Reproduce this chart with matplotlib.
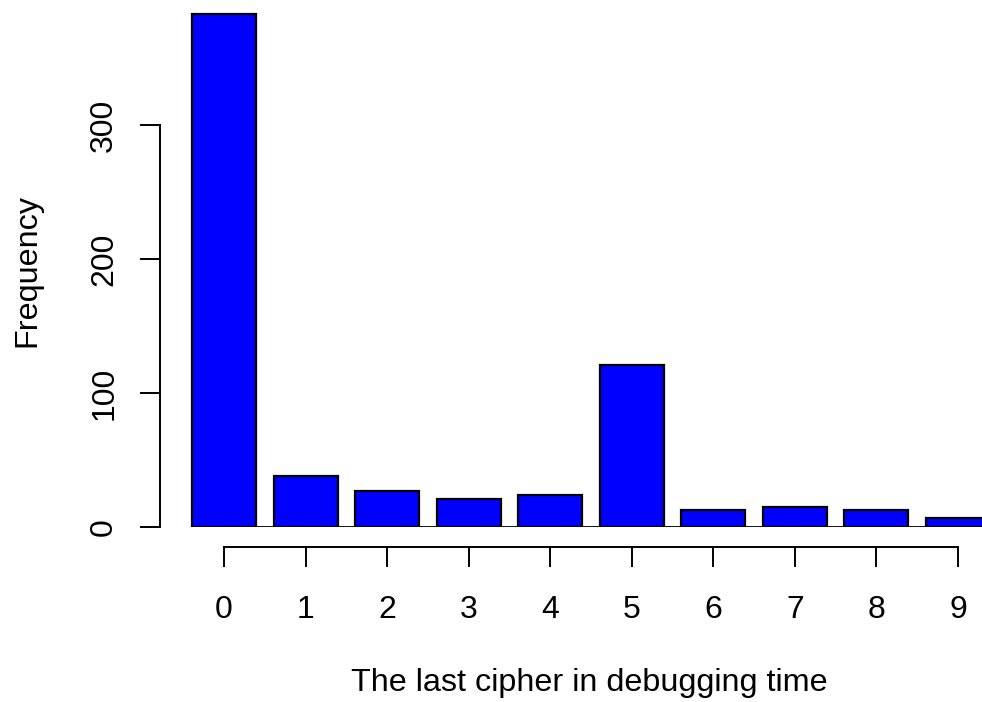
import matplotlib
matplotlib.use("Agg")
import matplotlib.pyplot as plt

digits = [0, 1, 2, 3, 4, 5, 6, 7, 8, 9]
counts = [383, 38, 27, 21, 24, 121, 13, 15, 13, 7]
yticks = [0, 100, 200, 300]

plt.rcParams["font.family"] = ["Liberation Sans", "DejaVu Sans"]

W, H = 982, 702
fig = plt.figure(figsize=(W / 100, H / 100), dpi=100)
# pixel geometry from the reference: x unit = 81.56 px, tick 0 at x=224; y 0 at 527, 1.34 px/unit
xu = 81.56
x0 = 224 - 0.6 * xu
x1 = 224 + 9.7 * xu
ax = fig.add_axes([x0 / W, (H - 527) / H, (x1 - x0) / W, 393 * 1.34 / H])
ax.set_xlim(-0.6, 9.7)
ax.set_ylim(0, 393)

ax.bar(digits, counts, width=0.785, color="#0000ff", edgecolor="black", linewidth=1.6, zorder=2)
ax.hlines(0, -0.4, 9.7, color="black", lw=1.3, zorder=1)

for s in ["top", "right"]:
    ax.spines[s].set_visible(False)
ax.spines["left"].set_position(("outward", 15 * 0.72))
ax.spines["left"].set_bounds(0, 300)
ax.spines["bottom"].set_position(("outward", 20 * 0.72))
ax.spines["bottom"].set_bounds(0, 9)
for s in ["left", "bottom"]:
    ax.spines[s].set_linewidth(1.4)

ax.set_xticks(digits)
ax.set_xticklabels([str(d) for d in digits])
ax.set_yticks(yticks)
ax.set_yticklabels([str(v) for v in yticks], rotation=90, va="center")
ax.tick_params(axis="both", length=14.4, width=1.4, labelsize=23)
ax.tick_params(axis="x", pad=20)
ax.tick_params(axis="y", pad=15)

fig.text(589 / W, 1 - 683 / H, "The last cipher in debugging time", fontsize=23.3,
         ha="center", va="center")
fig.text(27 / W, 1 - 270 / H, "Frequency", fontsize=23.3, rotation=90,
         ha="center", va="center")

fig.savefig("out.png", dpi=100)
